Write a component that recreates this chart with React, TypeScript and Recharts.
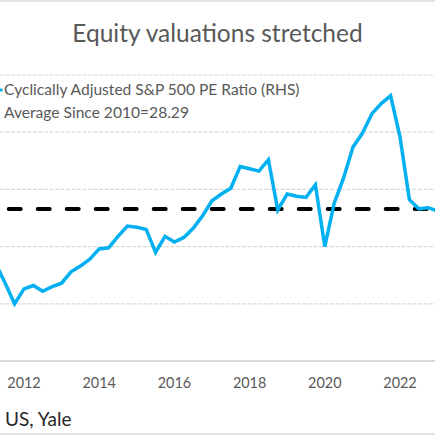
import { Line, LineChart, ReferenceLine, XAxis, YAxis } from "recharts"

// quarter dates as decimal years
const quarters = [
  2011.25, 2011.5, 2011.75, 2012, 2012.25, 2012.5, 2012.75, 2013, 2013.25, 2013.5, 2013.75, 2014,
  2014.25, 2014.5, 2014.75, 2015, 2015.25, 2015.5, 2015.75, 2016, 2016.25, 2016.5, 2016.75, 2017,
  2017.25, 2017.5, 2017.75, 2018, 2018.25, 2018.5, 2018.75, 2019, 2019.25, 2019.5, 2019.75, 2020,
  2020.25, 2020.5, 2020.75, 2021, 2021.25, 2021.5, 2021.75, 2022, 2022.25, 2022.5, 2022.75, 2023,
]

const cape = [
  23.5, 21.8, 20.0, 21.3, 21.6, 21.1, 21.5, 21.8, 22.8, 23.3, 23.9, 24.8,
  24.9, 25.9, 26.8, 26.7, 26.5, 24.5, 25.9, 25.4, 25.8, 26.6, 27.7, 29.0,
  29.6, 30.1, 32.0, 31.8, 31.6, 32.6, 28.2, 29.6, 29.4, 29.3, 30.4, 25.0,
  28.8, 31.0, 33.7, 34.9, 36.6, 37.5, 38.2, 34.6, 29.1, 28.3, 28.4, 28.1,
]

const AVERAGE = 28.29
const yearTicks = [2012, 2014, 2016, 2018, 2020, 2022]
const valueTicks = [15, 20, 25, 30, 35, 40]
const legendLabels = ["Cyclically Adjusted S&P 500 PE Ratio (RHS)", "Average Since 2010=28.29"]

const rows = quarters.map((q, i) => ({ q, cape: cape[i] }))

const FONT = "Lato, 'Open Sans', sans-serif"
const GREY = "#595959"
const BLUE = "#00B0F0"
const RULE = "#d9d9d9"

function ChartLegend() {
  return (
    <div
      style={{
        position: "absolute",
        top: 78,
        left: -20,
        fontFamily: FONT,
        fontSize: 15.6,
        color: GREY,
        lineHeight: "23px",
        whiteSpace: "nowrap",
      }}
    >
      {legendLabels.map((label, i) => (
        <div key={label} style={{ display: "flex", alignItems: "center" }}>
          <svg width={24} height={10}>
            {i === 0 ? (
              <line x1={0} y1={5} x2={22.5} y2={5} stroke={BLUE} strokeWidth={3} />
            ) : (
              <line x1={0} y1={5} x2={14} y2={5} stroke="#000" strokeWidth={3} strokeDasharray="6 4" />
            )}
          </svg>
          <span>{label}</span>
        </div>
      ))}
    </div>
  )
}

export default function App() {
  return (
    <div
      style={{
        position: "absolute",
        left: 0,
        top: 0,
        width: 435,
        height: 435,
        overflow: "hidden",
        background: "#fff",
      }}
    >
      <div style={{ position: "absolute", left: 0, top: 0, width: 435, height: 2, background: "#e3e3e3" }} />
      <div
        style={{
          position: "absolute",
          top: 17.5,
          width: 435,
          textAlign: "center",
          fontFamily: FONT,
          fontSize: 24.5,
          lineHeight: 1.2,
          color: GREY,
        }}
      >
        Equity valuations stretched
      </div>
      <LineChart width={435} height={435} data={rows} margin={{ top: 75, right: 0, bottom: 44, left: 0 }}>
        <XAxis
          dataKey="q"
          type="number"
          domain={[2011.362, 2022.931]}
          allowDataOverflow
          ticks={yearTicks}
          interval={0}
          height={30}
          tickLine={false}
          tickSize={6}
          tickMargin={11}
          axisLine={{ stroke: RULE, strokeWidth: 2 }}
          tick={{ fill: GREY, fontSize: 14.4, fontFamily: FONT }}
        />
        <YAxis
          width={0}
          domain={[15, 40]}
          ticks={valueTicks}
          allowDataOverflow
          tick={false}
          axisLine={false}
          tickLine={false}
        />
        {/* horizontal gridlines (bottom one is the axis line) */}
        {valueTicks.slice(1).map((v) => (
          <ReferenceLine key={v} y={v} stroke={RULE} strokeWidth={1.2} strokeDasharray="4 1.5" />
        ))}
        <ReferenceLine
          y={AVERAGE}
          stroke="#000"
          strokeWidth={4}
          strokeDasharray="12 17"
          strokeDashoffset={20.3}
          strokeLinecap="round"
        />
        <Line
          dataKey="cape"
          stroke={BLUE}
          strokeWidth={3.5}
          dot={false}
          isAnimationActive={false}
        />
      </LineChart>
      <ChartLegend />
      <div
        style={{
          position: "absolute",
          left: 5,
          top: 408,
          fontFamily: FONT,
          fontSize: 19,
          lineHeight: 1.2,
          color: "#262626",
        }}
      >
        US, Yale
      </div>
      <div style={{ position: "absolute", left: 0, top: 433, width: 435, height: 2, background: "#e3e3e3" }} />
    </div>
  )
}
